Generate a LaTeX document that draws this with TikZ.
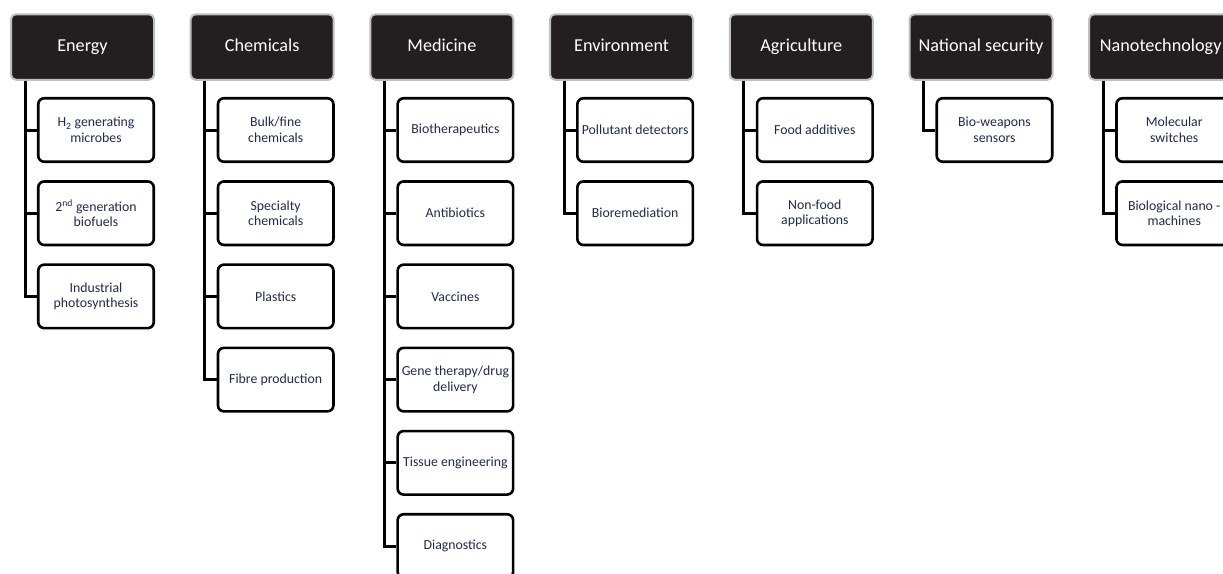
\documentclass[tikz,border=0pt]{standalone}
\usepackage{fontspec}
\setmainfont{Carlito}
\usepackage{xcolor}
\definecolor{headbg}{HTML}{231F20}
\definecolor{headrim}{HTML}{BFBFBF}
\definecolor{navy}{HTML}{1F2A55}
\usepackage{tikz}
\usetikzlibrary{positioning}

\begin{document}
\begin{tikzpicture}[
  x=1pt, y=1pt,
  node distance=17.1pt,
  sector/.style={rectangle, rounded corners=5pt, draw=headrim, fill=headbg, line width=2pt, minimum width=143pt, minimum height=65.5pt, inner xsep=1pt, text height=13pt, text depth=4pt, text=white, font=\fontsize{18.2}{22}\selectfont},
  app/.style={rectangle, rounded corners=6pt, draw=black, fill=white, line width=2.6pt, minimum width=115.5pt, minimum height=63.5pt, inner sep=1pt, align=center, text=navy, font=\fontsize{13.8}{15.5}\selectfont},
  link/.style={line width=3pt, black},
]
\useasboundingbox (0,0) rectangle (1223,-573);

% Sectors
\node[sector] (energy) at (82.5,-47) {Energy};
\node[sector] (chem) at (262.2,-47) {Chemicals};
\node[sector] (med) at (441.9,-47) {Medicine};
\node[sector] (env) at (621.6,-47) {Environment};
\node[sector] (agri) at (801.3,-47) {Agriculture};
\node[sector] (natsec) at (981.0,-47) {National security};
\node[sector] (nano) at (1160.7,-47) {Nanotechnology};

% Energy
\node[app, below=16.2pt of energy, xshift=13.5pt] (h2) {H\textsubscript{2} generating\\microbes};
\node[app, below=of h2] (biofuel) {2\textsuperscript{nd} generation\\biofuels};
\node[app, below=of biofuel] (photo) {Industrial\\photosynthesis};

% Chemicals
\node[app, below=16.2pt of chem, xshift=13.5pt] (bulk) {Bulk/fine\\chemicals};
\node[app, below=of bulk] (special) {Specialty\\chemicals};
\node[app, below=of special] (plastic) {Plastics};
\node[app, below=of plastic] (fibre) {Fibre production};

% Medicine
\node[app, below=16.2pt of med, xshift=13.5pt] (bioth) {Biotherapeutics};
\node[app, below=of bioth] (antib) {Antibiotics};
\node[app, below=of antib] (vacc) {Vaccines};
\node[app, below=of vacc] (gene) {Gene therapy/drug\\delivery};
\node[app, below=of gene] (tissue) {Tissue engineering};
\node[app, below=of tissue] (diag) {Diagnostics};

% Environment
\node[app, below=16.2pt of env, xshift=13.5pt] (pollut) {Pollutant detectors};
\node[app, below=of pollut] (biorem) {Bioremediation};

% Agriculture
\node[app, below=16.2pt of agri, xshift=13.5pt] (food) {Food additives};
\node[app, below=of food] (nonfood) {Non-food\\applications};

% National security
\node[app, below=16.2pt of natsec, xshift=13.5pt] (bioweap) {Bio-weapons\\sensors};

% Nanotechnology
\node[app, below=16.2pt of nano, xshift=13.5pt] (molsw) {Molecular\\switches};
\node[app, below=of molsw] (nanomach) {Biological nano -\\machines};

% Branches
\draw[link] ([xshift=15pt]energy.south west) |- (h2.west);
\draw[link] ([xshift=15pt]energy.south west) |- (biofuel.west);
\draw[link] ([xshift=15pt]energy.south west) |- (photo.west);

\draw[link] ([xshift=15pt]chem.south west) |- (bulk.west);
\draw[link] ([xshift=15pt]chem.south west) |- (special.west);
\draw[link] ([xshift=15pt]chem.south west) |- (plastic.west);
\draw[link] ([xshift=15pt]chem.south west) |- (fibre.west);

\draw[link] ([xshift=15pt]med.south west) |- (bioth.west);
\draw[link] ([xshift=15pt]med.south west) |- (antib.west);
\draw[link] ([xshift=15pt]med.south west) |- (vacc.west);
\draw[link] ([xshift=15pt]med.south west) |- (gene.west);
\draw[link] ([xshift=15pt]med.south west) |- (tissue.west);
\draw[link] ([xshift=15pt]med.south west) |- (diag.west);

\draw[link] ([xshift=15pt]env.south west) |- (pollut.west);
\draw[link] ([xshift=15pt]env.south west) |- (biorem.west);

\draw[link] ([xshift=15pt]agri.south west) |- (food.west);
\draw[link] ([xshift=15pt]agri.south west) |- (nonfood.west);

\draw[link] ([xshift=15pt]natsec.south west) |- (bioweap.west);

\draw[link] ([xshift=15pt]nano.south west) |- (molsw.west);
\draw[link] ([xshift=15pt]nano.south west) |- (nanomach.west);

\end{tikzpicture}
\end{document}
